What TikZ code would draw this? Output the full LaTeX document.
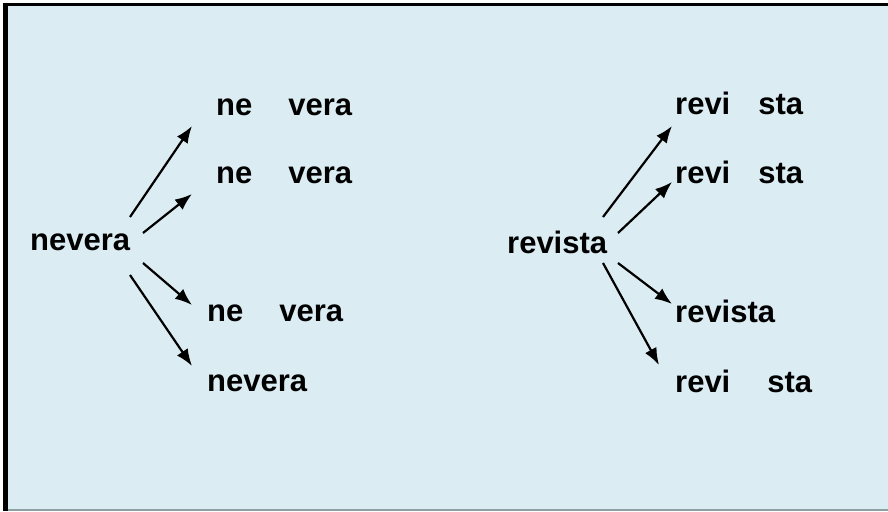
\documentclass[tikz,border=0pt]{standalone}
\usepackage{fontspec}
\setmainfont{Liberation Sans}
\usetikzlibrary{arrows.meta}
\definecolor{paleblue}{RGB}{219,237,243}
\definecolor{framegray}{RGB}{140,160,166}
\tikzstyle{word} = [font=\fontsize{31}{31}\selectfont\bfseries, inner sep=0pt, anchor=base west]
\tikzstyle{arr} = [-{Latex[length=17pt,width=13pt]}, line width=2.2pt]

\begin{document}
\begin{tikzpicture}[x=1pt, y=-1pt]
  \useasboundingbox (0,0) rectangle (888,511);
  \fill[white] (0,0) rectangle (888,511);
  \fill[paleblue] (3,3) rectangle (888,511);
  \draw[line width=3.5pt] (3,4.5) -- (888,4.5);
  \draw[line width=5pt] (5.5,3) -- (5.5,511);
  \draw[framegray, line width=2pt] (8,510) -- (888,510);

  % nevera
  \node[word] (nev) at (30,250) {nevera};
  \node[word] (nevA) at (216,115) {ne\hspace{36pt}vera};
  \node[word] (nevB) at (216,183) {ne\hspace{36pt}vera};
  \node[word] (nevC) at (207,321) {ne\hspace{36pt}vera};
  \node[word] (nevD) at (207,391) {nevera};

  \draw[arr] ([shift={(100,-33)}]nev.base west) -- ([shift={(-24,11)}]nevA.base west);
  \draw[arr] ([shift={(113,-17)}]nev.base west) -- ([shift={(-24,11)}]nevB.base west);
  \draw[arr] ([shift={(113,13)}]nev.base west) -- ([shift={(-15,-16)}]nevC.base west);
  \draw[arr] ([shift={(100,25)}]nev.base west) -- ([shift={(-15,-25)}]nevD.base west);

  % revista
  \node[word] (rev) at (507,253) {revista};
  \node[word] (revA) at (675,114) {revi\hspace{28pt}sta};
  \node[word] (revB) at (675,183) {revi\hspace{28pt}sta};
  \node[word] (revC) at (675,322) {revista};
  \node[word] (revD) at (675,392) {revi\hspace{37pt}sta};

  \draw[arr] ([shift={(96,-36)}]rev.base west) -- ([shift={(-3,12)}]revA.base west);
  \draw[arr] ([shift={(111,-20)}]rev.base west) -- ([shift={(-3,-1)}]revB.base west);
  \draw[arr] ([shift={(111,10)}]rev.base west) -- ([shift={(-3,-18)}]revC.base west);
  \draw[arr] ([shift={(96,10)}]rev.base west) -- ([shift={(-16,-27)}]revD.base west);
\end{tikzpicture}
\end{document}
